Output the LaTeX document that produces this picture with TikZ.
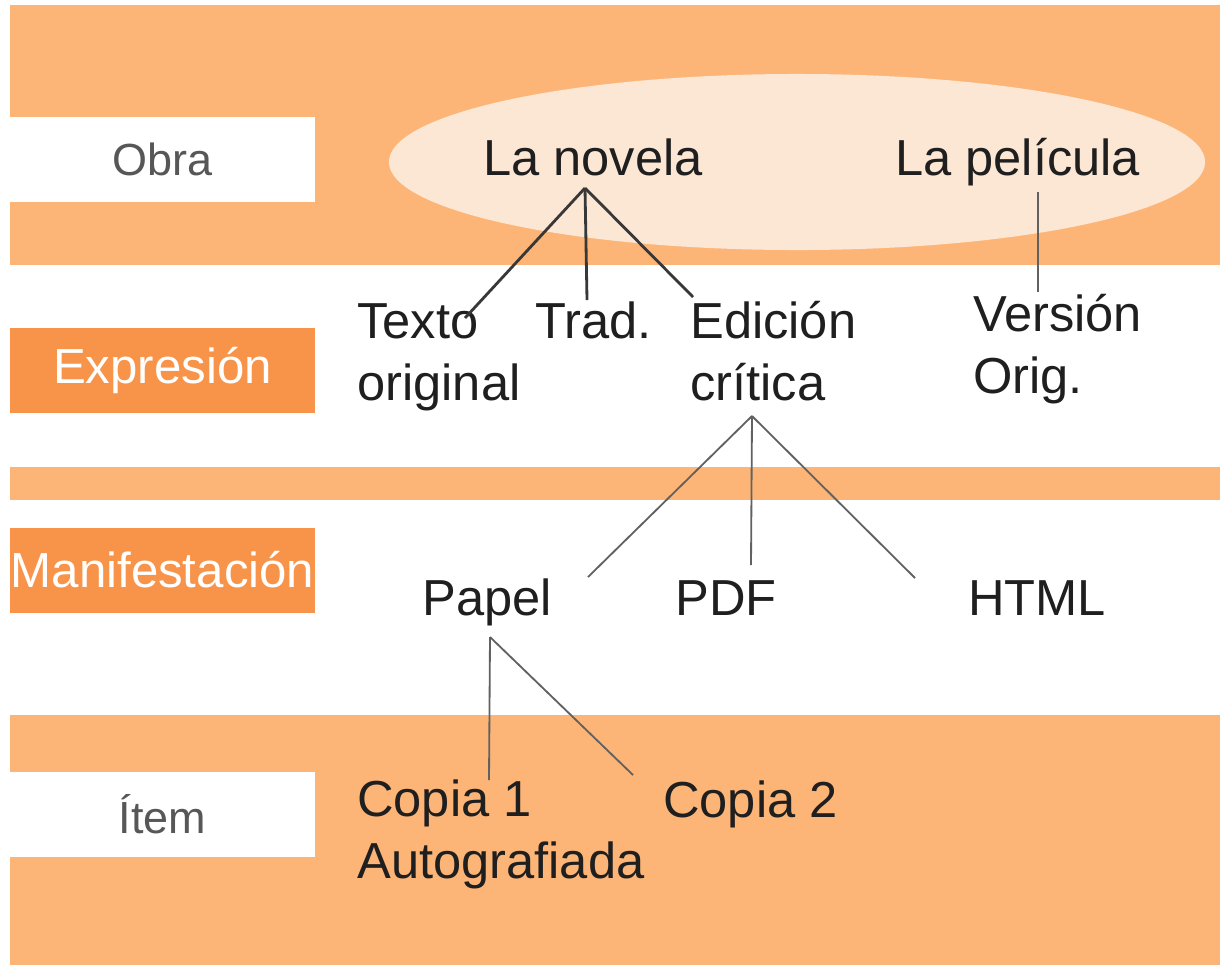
\documentclass[tikz,border=0pt]{standalone}
\usepackage{fontspec}
\setmainfont{Liberation Sans}
\usetikzlibrary{calc}
\definecolor{bandorange}{HTML}{FCB577}
\definecolor{boxorange}{HTML}{F7944A}
\definecolor{ovalfill}{HTML}{FCE6D4}
\definecolor{labelgray}{HTML}{575757}

\begin{document}
\begin{tikzpicture}[
    x=0.025cm, y=-0.025cm,
    level/.style={minimum width=7.625cm, minimum height=2.125cm, inner sep=0pt, font=\fontsize{32}{38}\selectfont},
    entity/.style={anchor=base west, inner sep=0pt, align=left, text=black!88, font=\fontsize{36}{43.5}\selectfont},
    link/.style={line width=1.3pt, draw=black!62},
    strong link/.style={line width=2pt, draw=black!78}
]
   \useasboundingbox (0,0) rectangle (1220,969);

   % Bands
   \fill[bandorange] (10,5) rectangle (1220,265);
   \fill[bandorange] (10,467) rectangle (1220,500);
   \fill[bandorange] (10,715) rectangle (1220,965);
   \fill[ovalfill] (797,162) ellipse [x radius=10.2cm, y radius=2.2cm];

   % Levels
   \node[level, fill=white, text=labelgray] (obra) at (162.5,159.5) {Obra};
   \node[level, fill=boxorange, text=white, font=\fontsize{35}{40}\selectfont] (expresion) at (162.5,370.5) {Expresión};
   \node[level, fill=boxorange, text=white, font=\fontsize{35}{40}\selectfont] (manif) at (162.5,570) {Manifestación};
   \node[level, fill=white, text=labelgray] (item) at (162.5,814) {Ítem};

   % Entities (base = last line)
   \node[entity] (novela) at (483,175) {La novela};
   \node[entity] (pelicula) at (895,175) {La película};
   \node[entity] (texto) at (357,400) {Texto\\original};
   \node[entity] (trad) at (535,338) {Trad.};
   \node[entity] (edicion) at (690,400) {Edición\\crítica};
   \node[entity] (version) at (973,393) {Versión\\Orig.};
   \node[entity] (papel) at (422,615) {Papel};
   \node[entity] (pdf) at (675,615) {PDF};
   \node[entity] (html) at (968,615) {HTML};
   \node[entity] (copia1) at (357,878) {Copia 1\\Autografiada};
   \node[entity] (copia2) at (663,817) {Copia 2};

   \coordinate (novela-fork) at ($(novela.base west)+(102,13)$);
   \coordinate (edicion-fork) at ($(edicion.base west)+(62,16)$);
   \coordinate (papel-fork) at ($(papel.base west)+(68,22)$);

   % Links
   \draw[strong link] (novela-fork) -- ($(texto.base west)+(108,-82)$);
   \draw[strong link] (novela-fork) -- ($(trad.base west)+(52,-38)$);
   \draw[strong link] (novela-fork) -- ($(edicion.base west)+(3,-103)$);
   \draw[link] ($(pelicula.base west)+(143,17)$) -- ($(version.base west)+(65,-101)$);
   \draw[link] (edicion-fork) -- ($(papel.base west)+(166,-38)$);
   \draw[link] (edicion-fork) -- ($(pdf.base west)+(76,-50)$);
   \draw[link] (edicion-fork) -- ($(html.base west)+(-53,-37)$);
   \draw[link] (papel-fork) -- ($(copia1.base west)+(132,-98)$);
   \draw[link] (papel-fork) -- ($(copia2.base west)+(-30,-42)$);
\end{tikzpicture}
\end{document}
